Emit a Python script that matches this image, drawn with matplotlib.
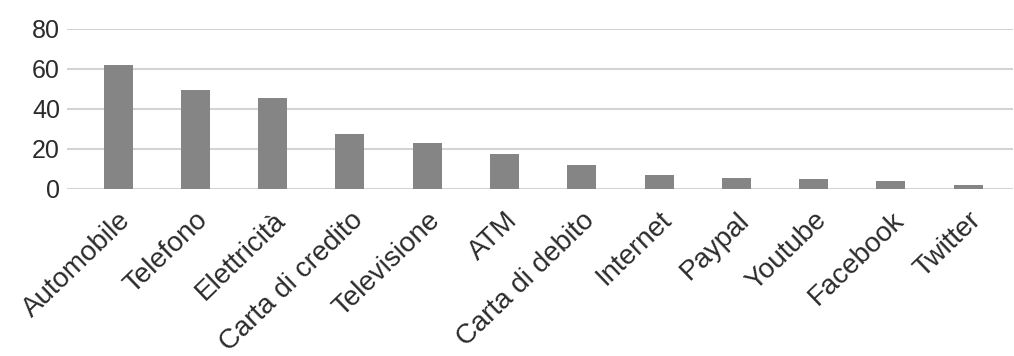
import matplotlib.pyplot as plt

categories = ["Automobile", "Telefono", "Elettricità", "Carta di credito",
              "Televisione", "ATM", "Carta di debito", "Internet", "Paypal",
              "Youtube", "Facebook", "Twitter"]
values = [62, 49.3, 45.5, 27.6, 23, 17.5, 12, 7.2, 5.6, 5, 3.8, 1.8]
yticks = [0, 20, 40, 60, 80]

BAR = "#858585"
GRID = "#d4d4d4"
TEXT = "#2b2b2b"

plt.rcParams["font.family"] = ["Liberation Sans", "DejaVu Sans"]

fig = plt.figure(figsize=(10.14, 3.56), dpi=100)
ax = fig.add_axes([67 / 1014, 1 - 189 / 356, (1013 - 67) / 1014, 160 / 356])

x = range(len(categories))
ax.bar(x, values, width=0.375, color=BAR, zorder=2)

ax.set_ylim(0, 80)
ax.set_xlim(-0.66, 11.58)
ax.set_yticks(yticks)
ax.set_yticklabels([str(t) for t in yticks], fontsize=18, color=TEXT)
ax.grid(axis="y", color=GRID, lw=1.5, zorder=0)
ax.tick_params(axis="y", length=0, pad=5)
ax.tick_params(axis="x", length=0, pad=13)
ax.set_xticks(list(x))
ax.set_xticklabels(categories, rotation=44, ha="right", rotation_mode="anchor",
                   fontsize=20, color=TEXT)
for s in ax.spines.values():
    s.set_visible(False)

fig.savefig("out.png", dpi=100)
